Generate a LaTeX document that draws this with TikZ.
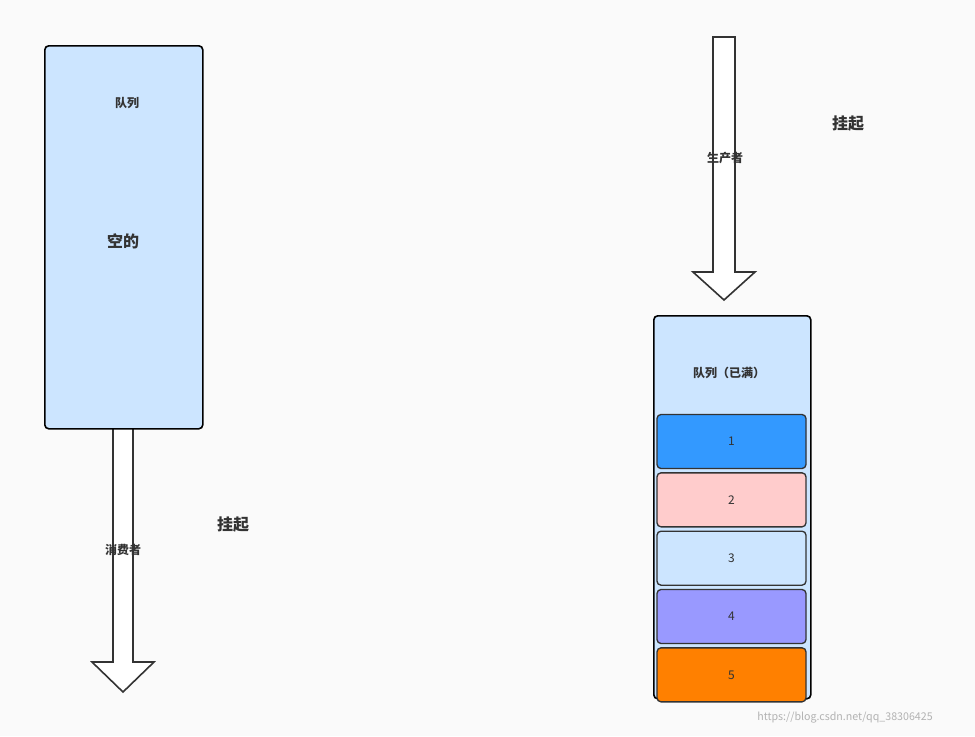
\documentclass[tikz,border=0pt]{standalone}
\usepackage{fontspec}
\setmainfont{Noto Sans CJK SC}
\usetikzlibrary{positioning}
\definecolor{queuefill}{HTML}{CCE5FF}
\definecolor{cellone}{HTML}{3399FF}
\definecolor{celltwo}{HTML}{FFCCCC}
\definecolor{cellfour}{HTML}{9999FF}
\definecolor{cellfive}{HTML}{FF8000}
\definecolor{inkgray}{HTML}{333333}
\tikzset{
    % the queue containers
    queue box/.style={draw=black, line width=1.2pt, rounded corners=3pt, fill=queuefill},
    % the slots of the full queue
    cell/.style={draw=inkgray, line width=1pt, rounded corners=3pt,
        minimum width=111.75pt, minimum height=40.5pt, font=\small, text=inkgray},
    % hollow block arrows
    block arrow/.style={draw=inkgray, line width=1.2pt, fill=white},
    label text/.style={font=\bfseries\small, text=inkgray},
    big text/.style={font=\bfseries\large, text=inkgray}}
\begin{document}
\begin{tikzpicture}[x=0.75pt, y=-0.75pt]
\useasboundingbox[fill={rgb,255:red,250;green,250;blue,250}] (0,0) rectangle (975,736);

% empty queue and consumer
\draw [block arrow] (113,428) -- (113,662) -- (92,662) -- (123,692) -- (154,662)
    -- (133,662) -- (133,428);
\node [queue box, minimum width=118.5pt, minimum height=287.25pt, anchor=north west]
    (empty) at (44,45) {};
\node [label text] (empty title) at (127,103) {队列};
\node [big text] (empty text) at (123,241) {空的};
\node [label text] (consumer) at (123,550) {消费者};
\node [big text] (hang left) at (233,525) {挂起};

% full queue and producer
\draw [block arrow] (713,37) -- (713,272) -- (693,272) -- (724,300) -- (755,272)
    -- (735,272) -- (735,37) -- cycle;
\node [label text] (producer) at (725,158) {生产者};
\node [big text] (hang right) at (848,124) {挂起};
\node [queue box, minimum width=117.75pt, minimum height=287.25pt, anchor=north west]
    (full) at (653,315) {};
\node [label text] (full title) at (729,373) {队列（已满）};
\node [cell, fill=cellone] (c1) at (731.5,441.5) {1};
\node [cell, fill=celltwo, below=2.25pt of c1] (c2) {2};
\node [cell, fill=queuefill, below=2.25pt of c2] (c3) {3};
\node [cell, fill=cellfour, below=2.25pt of c3] (c4) {4};
\node [cell, fill=cellfive, below=2.25pt of c4] (c5) {5};

\node [text=gray!60, font=\footnotesize] (mark) at (845,718) {https://blog.csdn.net/qq\_38306425};
\end{tikzpicture}
\end{document}
